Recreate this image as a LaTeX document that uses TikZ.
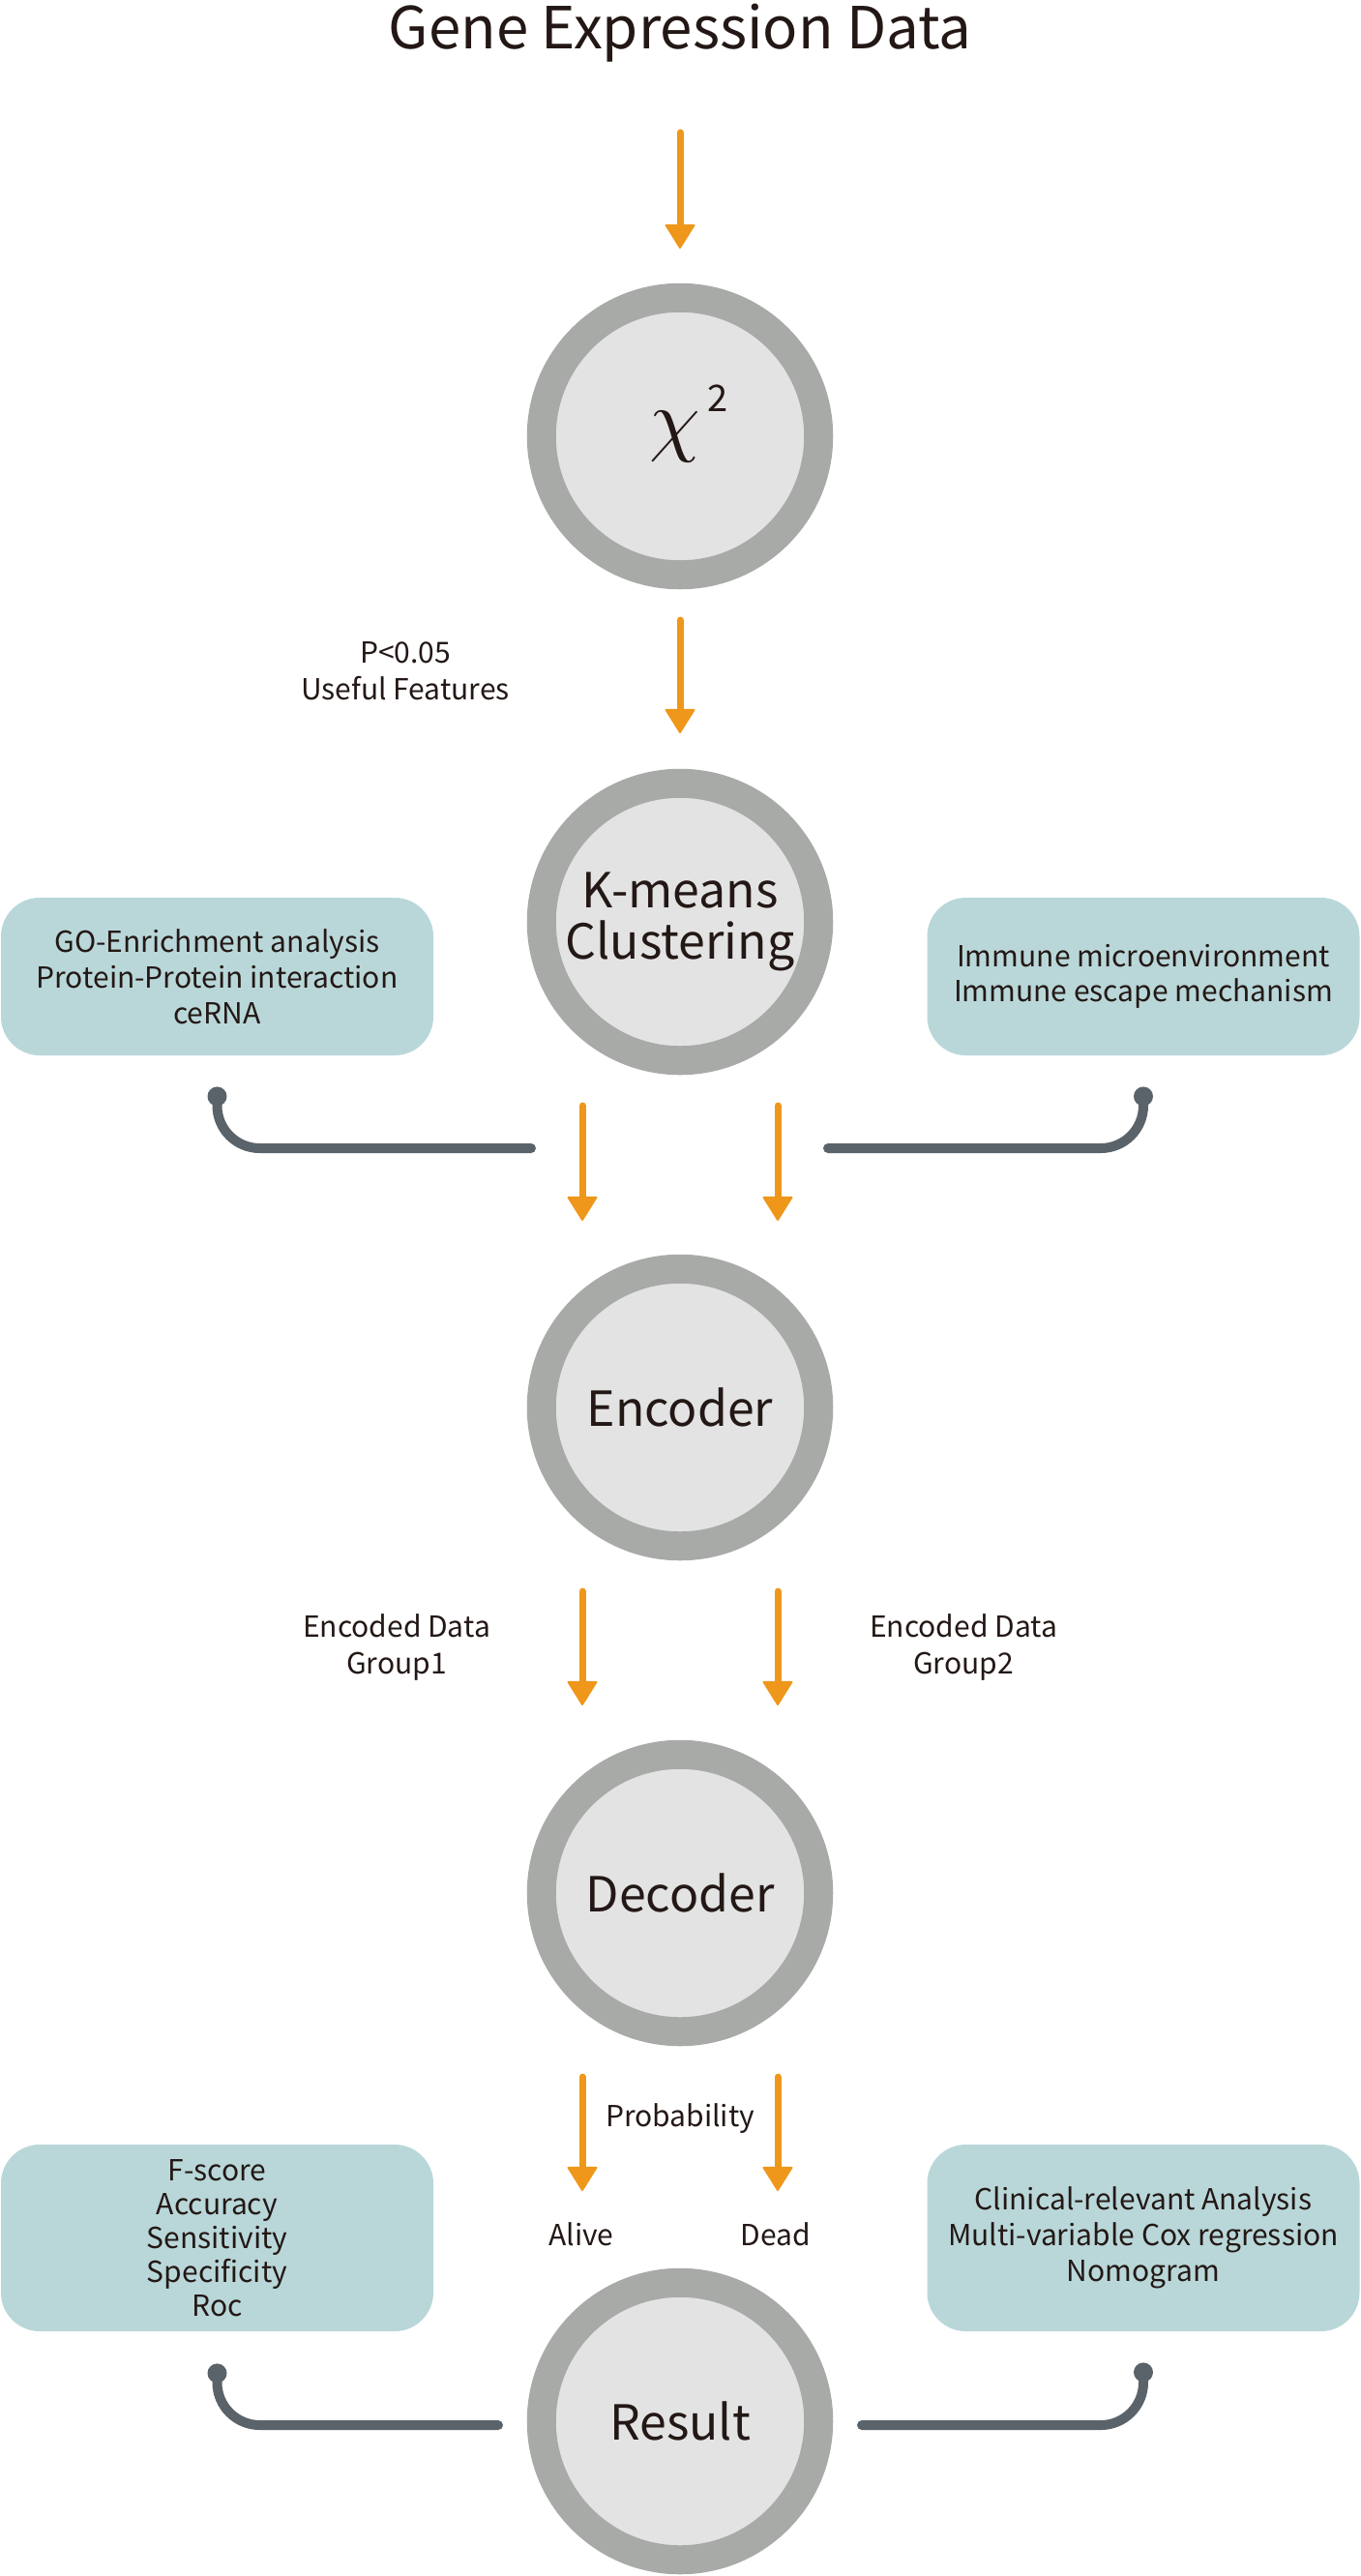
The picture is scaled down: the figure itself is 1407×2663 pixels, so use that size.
\documentclass[tikz,border=0pt]{standalone}
\usepackage{fontspec}
\setmainfont{Noto Sans CJK SC}
\usetikzlibrary{arrows.meta}
\definecolor{ringc}{HTML}{A8AAA8}
\definecolor{corec}{HTML}{E3E3E4}
\definecolor{boxc}{HTML}{B9D7D9}
\definecolor{hookc}{HTML}{5B636A}
\definecolor{orng}{HTML}{EE971B}
\definecolor{txt}{HTML}{231815}
\begin{document}
\begin{tikzpicture}[x=0.5pt,y=-0.5pt,
  every node/.style={text=txt},
  stage/.style={circle, draw=ringc, line width=15pt, fill=corec, minimum size=143.25pt,
    inner sep=0pt, align=center, font=\fontsize{25}{26.5}\selectfont},
  infobox/.style={rectangle, rounded corners=20pt, fill=boxc, minimum width=223.5pt,
    inner sep=0pt, align=center},
  lbl/.style={align=center, inner sep=0pt, font=\fontsize{15}{19}\selectfont},
  oarrow/.style={draw=orng, line width=3.5pt, line cap=round,
    -{Triangle[width=16pt,length=13pt,round,line width=1pt]}},
  hook/.style={draw=hookc, line width=5pt, line cap=round, rounded corners=22pt}]
\useasboundingbox (0,0) rectangle (1407,2663);

% title
\node[anchor=base, inner sep=0pt, font=\fontsize{30}{34}\selectfont] (title) at (703,50) {Gene Expression Data};

% stages
\node[stage] (chi) at (703,451) {};
\node[anchor=base, inner sep=0pt, scale=4.2] (chisym) at (698,461) {$\chi$};
\node[anchor=base west, inner sep=0pt, font=\fontsize{19}{19}\selectfont] (chisq) at (731,425) {2};
\node[stage] (kmeans) at (703,953) {K-means\\Clustering};
\node[stage] (encoder) at (703,1455) {Encoder};
\node[stage] (decoder) at (703,1957) {Decoder};
\node[stage] (result) at (703,2503) {Result};

% info boxes
\node[infobox, minimum height=81.5pt, font=\fontsize{15}{18.5}\selectfont] (go) at (224.5,1009.5)
  {GO-Enrichment analysis\\Protein-Protein interaction\\ceRNA};
\node[infobox, minimum height=81.5pt, font=\fontsize{15}{18}\selectfont] (immune) at (1182,1009.5)
  {Immune microenvironment\\Immune escape mechanism};
\node[infobox, minimum height=96.5pt, font=\fontsize{15}{17.5}\selectfont] (metrics) at (224.5,2313.5)
  {F-score\\Accuracy\\Sensitivity\\Specificity\\Roc};
\node[infobox, minimum height=96.5pt, font=\fontsize{15}{18.5}\selectfont] (clinical) at (1182,2313.5)
  {Clinical-relevant Analysis\\Multi-variable Cox regression\\Nomogram};

% labels
\node[lbl] (pval) at (419,694) {P<0.05\\Useful Features};
\node[lbl] (enc1) at (410,1703) {Encoded Data\\Group1};
\node[lbl] (enc2) at (996,1703) {Encoded Data\\Group2};
\node[lbl] (prob) at (703,2190) {Probability};
\node[lbl] (alive) at (601,2310) {Alive};
\node[lbl] (dead) at (802,2310) {Dead};

% orange arrows
\draw[oarrow, shorten <=43.5pt, shorten >=17.9pt] (title.base) -- (chi.north);
\draw[oarrow, shorten <=15.9pt, shorten >=18.4pt] (chi.south) -- (kmeans.north);
\draw[oarrow, shorten <=15.9pt, shorten >=17.4pt] ([xshift=-50.5pt]kmeans.south) -- ([xshift=-50.5pt]encoder.north);
\draw[oarrow, shorten <=15.9pt, shorten >=17.4pt] ([xshift=50.5pt]kmeans.south) -- ([xshift=50.5pt]encoder.north);
\draw[oarrow, shorten <=15.9pt, shorten >=17.9pt] ([xshift=-50.5pt]encoder.south) -- ([xshift=-50.5pt]decoder.north);
\draw[oarrow, shorten <=15.9pt, shorten >=17.9pt] ([xshift=50.5pt]encoder.south) -- ([xshift=50.5pt]decoder.north);
\draw[oarrow, shorten <=15.9pt, shorten >=39.9pt] ([xshift=-50.5pt]decoder.south) -- ([xshift=-50.5pt]result.north);
\draw[oarrow, shorten <=15.9pt, shorten >=39.9pt] ([xshift=50.5pt]decoder.south) -- ([xshift=50.5pt]result.north);

% hooks
\coordinate (h1) at (549,1187);
\coordinate (h2) at (856,1187);
\coordinate (h3) at (515,2507);
\coordinate (h4) at (891,2507);
\coordinate (d1) at ([yshift=-21pt]go.south);
\coordinate (d2) at ([yshift=-21pt]immune.south);
\coordinate (d3) at ([yshift=-21.5pt]metrics.south);
\coordinate (d4) at ([yshift=-21pt]clinical.south);
\draw[hook] (h1) -| (d1);
\draw[hook] (h2) -| (d2);
\draw[hook] (h3) -| (d3);
\draw[hook] (h4) -| (d4);
\foreach \d in {d1,d2,d3,d4} \fill[hookc] (\d) circle (5pt);
\end{tikzpicture}
\end{document}
